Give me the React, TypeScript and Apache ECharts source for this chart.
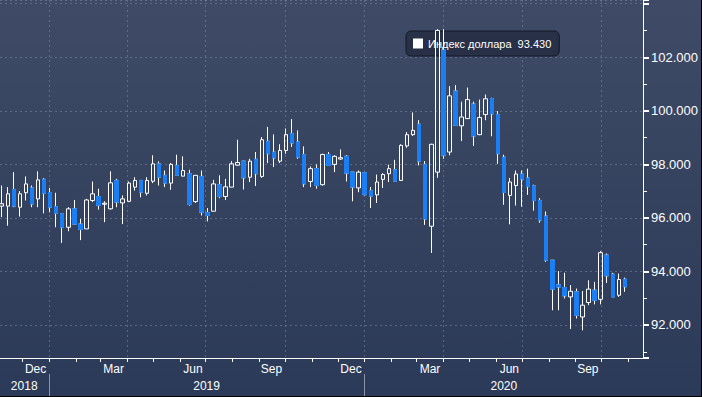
import React, { useEffect, useRef } from "react";
import * as echarts from "echarts";

// ---- data (weekly OHLC) ----
const seriesName = "Индекс доллара";
const firstWeek = "2018-11-07";
const viewStart = "2018-11-05";
const viewEnd = "2020-11-18";

const opens = [
  96.44, 96.44, 97.06, 96.40, 96.94, 97.12, 96.71, 97.44, 96.95, 96.42,
  96.16, 95.65, 96.34, 95.77, 95.59, 96.65, 96.80, 96.51, 96.34, 97.40,
  96.56, 96.62, 97.15, 97.40, 96.92, 97.37, 98.02, 97.59, 97.30, 97.96,
  97.56, 97.65, 96.61, 97.55, 96.20, 96.25, 97.24, 96.80, 97.15, 97.97,
  98.12, 97.52, 98.19, 97.55, 98.86, 98.46, 98.12, 98.52, 99.15, 98.84,
  98.37, 97.36, 97.84, 97.24, 98.37, 98.00, 98.20, 98.30, 97.71, 97.12,
  97.69, 97.02, 96.86, 97.44, 97.65, 97.80, 97.40, 98.69, 99.11, 99.50,
  98.00, 95.69, 97.71, 102.27, 98.46, 100.74, 99.44, 99.71, 100.25, 99.11,
  99.86, 100.46, 99.86, 98.27, 96.84, 97.21, 97.64, 97.49, 97.20, 96.65,
  96.07, 94.42, 93.50, 93.40, 93.05, 93.24, 92.30, 92.84, 93.30, 92.96,
  94.61, 93.90, 93.11, 93.71,
];
const closes = [
  96.53, 96.90, 96.44, 96.90, 97.27, 96.52, 97.42, 96.92, 96.40, 96.17,
  95.65, 96.34, 95.77, 95.57, 96.67, 96.90, 96.47, 96.55, 97.31, 96.59,
  96.71, 97.30, 97.40, 96.96, 97.40, 98.02, 97.52, 97.30, 98.00, 97.59,
  97.77, 96.50, 97.59, 96.21, 96.09, 97.27, 96.80, 97.16, 98.02, 98.07,
  97.50, 98.12, 97.65, 98.92, 98.40, 98.24, 98.52, 99.11, 98.80, 98.27,
  97.27, 97.84, 97.21, 98.37, 97.96, 98.30, 98.25, 97.67, 97.15, 97.71,
  96.87, 96.81, 97.34, 97.62, 97.84, 97.37, 98.71, 99.11, 99.27, 98.12,
  95.96, 98.75, 103.00, 98.34, 100.56, 99.46, 99.77, 100.42, 99.06, 99.75,
  100.45, 99.89, 98.40, 96.95, 97.34, 97.64, 97.45, 97.17, 96.65, 95.92,
  94.42, 93.34, 93.42, 93.09, 93.26, 92.36, 92.74, 93.34, 92.92, 94.70,
  93.84, 93.05, 93.70, 93.43,
];
const lows = [
  96.03, 95.71, 96.40, 96.05, 96.65, 96.40, 96.40, 96.17, 96.21, 95.65,
  95.06, 95.50, 95.77, 95.17, 95.59, 96.59, 96.31, 95.84, 96.31, 96.40,
  95.77, 96.59, 97.02, 96.77, 96.84, 97.30, 97.21, 97.15, 97.05, 97.59,
  97.56, 96.46, 96.56, 96.09, 95.87, 96.25, 96.74, 96.67, 97.15, 97.95,
  97.06, 97.34, 97.19, 97.50, 98.05, 97.90, 98.05, 98.40, 98.65, 98.21,
  97.15, 97.15, 97.09, 97.21, 97.96, 97.71, 98.17, 97.36, 96.62, 96.96,
  96.84, 96.37, 96.56, 97.12, 97.34, 97.37, 97.40, 98.62, 99.06, 97.96,
  95.74, 94.69, 97.50, 98.21, 98.34, 99.44, 98.87, 99.69, 98.69, 99.09,
  99.65, 99.05, 98.02, 96.49, 95.76, 96.46, 96.42, 96.86, 96.27, 95.82,
  94.36, 92.55, 92.55, 92.99, 91.85, 92.24, 91.80, 92.74, 92.77, 92.77,
  93.57, 93.05, 93.05, 93.24,
];
const highs = [
  97.21, 97.15, 97.71, 97.00, 97.55, 97.21, 97.74, 97.49, 97.12, 96.94,
  96.16, 96.40, 96.67, 95.96, 96.71, 97.36, 97.09, 96.62, 97.74, 97.46,
  96.84, 97.36, 97.52, 97.40, 97.52, 98.34, 98.11, 97.77, 98.05, 98.36,
  98.30, 97.80, 97.59, 97.77, 96.37, 97.42, 97.59, 97.46, 98.12, 98.92,
  98.12, 98.21, 98.46, 99.02, 99.40, 99.12, 98.75, 99.34, 99.69, 99.27,
  98.67, 97.92, 98.00, 98.40, 98.46, 98.34, 98.56, 98.34, 97.71, 97.77,
  97.69, 97.15, 97.62, 97.67, 97.99, 98.17, 98.75, 99.21, 99.94, 99.65,
  98.12, 98.77, 103.05, 103.05, 100.92, 100.96, 100.34, 100.87, 100.34, 100.42,
  100.61, 100.49, 99.99, 98.36, 97.49, 97.77, 97.77, 97.84, 97.24, 96.74,
  96.24, 94.42, 94.01, 93.95, 93.49, 93.36, 93.27, 93.67, 93.61, 94.76,
  94.67, 93.95, 93.92, 93.77,
];
const monthNames = ["Jan", "Feb", "Mar", "Apr", "May", "Jun", "Jul", "Aug", "Sep", "Oct", "Nov", "Dec"];

const DAY = 86400000;
const toMs = (s: string) => {
  const [y, m, d] = s.split("-").map(Number);
  return Date.UTC(y, m - 1, d);
};

export default function App() {
  const ref = useRef<HTMLDivElement>(null);

  useEffect(() => {
    if (!ref.current) return;
    const chart = echarts.init(ref.current, null, { renderer: "svg" });

    const startMs = toMs(viewStart);
    const endMs = toMs(viewEnd);
    const days: string[] = [];
    for (let t = startMs; t <= endMs; t += DAY) {
      days.push(new Date(t).toISOString().slice(0, 10));
    }
    const isMonthStart = (v: string) => v.slice(8) === "01";
    const isQuarterStart = (v: string) =>
      isMonthStart(v) && ["01", "04", "07", "10"].includes(v.slice(5, 7));
    const isYearStart = (v: string) => v.slice(5) === "01-01";

    // center of visible portion of each year
    const yearMid = new Set<number>();
    const yearRanges: Record<string, [number, number]> = {};
    days.forEach((d, i) => {
      const y = d.slice(0, 4);
      if (!yearRanges[y]) yearRanges[y] = [i, i];
      yearRanges[y][1] = i;
    });
    Object.values(yearRanges).forEach(([a, b]) => yearMid.add(Math.round((a + b) / 2)));

    const w0 = toMs(firstWeek);
    const weekTimes = opens.map((_, i) => w0 + i * 7 * DAY);
    const ohlc = weekTimes.map((t, i) => [t, opens[i], closes[i], lows[i], highs[i]]);
    const downBodies = weekTimes
      .map((t, i) => (closes[i] < opens[i] ? [t, opens[i], closes[i], closes[i], opens[i]] : null))
      .filter((x) => x !== null);
    const last = closes[closes.length - 1];

    const blue = "#1b7ef2";
    const gridColor = "rgba(120,138,168,0.55)";
    const font = "'Liberation Sans', Arial, sans-serif";

    chart.setOption({
      animation: false,
      backgroundColor: new echarts.graphic.LinearGradient(0, 0, 0, 1, [
        { offset: 0, color: "#3f4b66" },
        { offset: 1, color: "#2b3a58" },
      ]),
      textStyle: { fontFamily: font },
      grid: { left: 0, right: 58, top: 0, bottom: 38, containLabel: false },
      legend: {
        data: [{ name: seriesName, icon: "rect", itemStyle: { color: "#ffffff", borderWidth: 0 } }],
        selectedMode: false,
        left: 406,
        top: 31,
        z: 1,
        padding: [7, 8, 7, 7],
        itemWidth: 10,
        itemHeight: 10,
        backgroundColor: "rgba(38,47,68,0.92)",
        borderColor: "#121824",
        borderWidth: 1,
        borderRadius: 5,
        textStyle: { color: "#ffffff", fontSize: 11, fontFamily: font },
        formatter: (name: string) => `${name}  ${last.toFixed(3)}`,
      },
      xAxis: [
        {
          type: "category",
          data: days,
          boundaryGap: false,
          position: "bottom",
          axisLine: { show: true, lineStyle: { color: "#ffffff", width: 1 } },
          axisTick: {
            show: true,
            interval: (_i: number, v: string) => isMonthStart(v),
            length: 4,
            lineStyle: { color: "#ffffff" },
          },
          axisLabel: {
            show: true,
            interval: (_i: number, v: string) => isQuarterStart(v),
            formatter: (v: string) => monthNames[(Number(v.slice(5, 7)) + 10) % 12],
            align: "right",
            padding: [0, 3, 0, 0],
            color: "#ffffff",
            fontSize: 12,
            margin: 5,
            fontFamily: font,
          },
          splitLine: {
            show: true,
            interval: (_i: number, v: string) => isQuarterStart(v),
            lineStyle: { color: gridColor, type: [2, 3], width: 1 },
          },
        },
        {
          type: "category",
          data: days,
          boundaryGap: false,
          position: "bottom",
          offset: 16,
          axisLine: { show: false },
          axisTick: {
            show: true,
            interval: (_i: number, v: string) => isYearStart(v),
            length: 24,
            lineStyle: { color: "#8a93a8" },
          },
          axisLabel: {
            show: true,
            interval: (i: number) => yearMid.has(i),
            formatter: (v: string) => v.slice(0, 4),
            color: "#ffffff",
            fontSize: 12,
            margin: 6,
            fontFamily: font,
          },
          splitLine: { show: false },
        },
        {
          type: "time",
          show: false,
          min: startMs,
          max: endMs,
        },
      ],
      yAxis: {
        type: "value",
        position: "right",
        min: 90.767,
        max: 104.14,
        splitNumber: 6,
        minInterval: 2,
        maxInterval: 2,
        axisLine: { show: true, lineStyle: { color: "#ffffff", width: 1 } },
        axisTick: { show: true, length: 6, lineStyle: { color: "#ffffff", width: 2 } },
        minorTick: { show: true, splitNumber: 2, length: 4, lineStyle: { color: "#ffffff" } },
        axisLabel: {
          color: "#ffffff",
          fontSize: 13,
          margin: 8,
          fontFamily: font,
          formatter: (v: number) => {
            const r = Math.round(v);
            if (Math.abs(v - r) > 1e-6 || r % 2 !== 0 || r > 103) return "";
            return v.toFixed(3);
          },
        },
        splitLine: { show: true, lineStyle: { color: gridColor, type: [2, 3], width: 1 } },
      },
      series: [
        {
          name: seriesName,
          type: "candlestick",
          xAxisIndex: 2,
          yAxisIndex: 0,
          barWidth: 4,
          encode: { x: 0, y: [1, 2, 3, 4] },
          data: ohlc,
          itemStyle: {
            color: "rgba(0,0,0,0)",
            color0: blue,
            borderColor: "#ffffff",
            borderColor0: "#ffffff",
            borderWidth: 1,
          },
          markLine: {
            silent: true,
            symbol: ["none", "none"],
            lineStyle: { opacity: 0 },
            data: [{ yAxis: last }],
            label: {
              show: true,
              position: "end",
              distance: 4,
              formatter: () => last.toFixed(3),
              backgroundColor: "#ffffff",
              borderColor: "#000000",
              borderWidth: 1,
              color: "#000000",
              fontSize: 12,
              padding: [3, 4, 3, 4],
              fontFamily: font,
            },
          },
        },
        {
          name: "body",
          type: "candlestick",
          xAxisIndex: 2,
          yAxisIndex: 0,
          barWidth: 4,
          encode: { x: 0, y: [1, 2, 3, 4] },
          data: downBodies,
          itemStyle: {
            color: blue,
            color0: blue,
            borderColor: blue,
            borderColor0: blue,
            borderWidth: 1,
          },
        },
      ],
    });

    return () => chart.dispose();
  }, []);

  return (
    <div
      style={{
        position: "fixed",
        left: 0,
        top: 0,
        width: 702,
        height: 397,
        boxSizing: "border-box",
        borderRight: "1px solid #000",
        borderBottom: "1px solid #000",
        background: "#2b3a58",
      }}
    >
      <div ref={ref} style={{ width: 701, height: 396 }} />
    </div>
  );
}
